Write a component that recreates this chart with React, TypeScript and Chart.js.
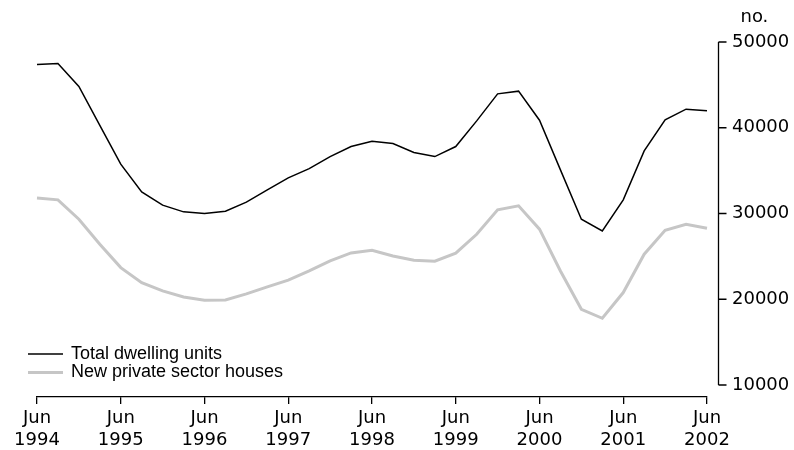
import React, { useEffect, useRef } from "react";
import { Chart, registerables } from "chart.js";

Chart.register(...registerables);

const quarters: string[] = [
  "Jun 1994", "Sep 1994", "Dec 1994", "Mar 1995",
  "Jun 1995", "Sep 1995", "Dec 1995", "Mar 1996",
  "Jun 1996", "Sep 1996", "Dec 1996", "Mar 1997",
  "Jun 1997", "Sep 1997", "Dec 1997", "Mar 1998",
  "Jun 1998", "Sep 1998", "Dec 1998", "Mar 1999",
  "Jun 1999", "Sep 1999", "Dec 1999", "Mar 2000",
  "Jun 2000", "Sep 2000", "Dec 2000", "Mar 2001",
  "Jun 2001", "Sep 2001", "Dec 2001", "Mar 2002",
  "Jun 2002",
];

const totalDwellingUnits: number[] = [
  47370, 47490, 44810, 40280, 35750, 32520, 30970, 30190,
  29990, 30270, 31320, 32750, 34150, 35240, 36640, 37810,
  38430, 38160, 37110, 36640, 37810, 40800, 43950, 44270,
  40880, 35090, 29330, 27970, 31590, 37300, 40920, 42170,
  41970,
];

const newPrivateSectorHouses: number[] = [
  31820, 31590, 29330, 26420, 23690, 21940, 20970, 20270,
  19880, 19920, 20620, 21440, 22220, 23300, 24470, 25400,
  25720, 25050, 24550, 24430, 25370, 27580, 30420, 30890,
  28170, 23300, 18830, 17780, 20780, 25250, 28050, 28750,
  28280,
];

const seriesLabels: string[] = ["Total dwelling units", "New private sector houses"];
const yTickValues: number[] = [10000, 20000, 30000, 40000, 50000];
const yUnit = "no.";

const TICK_FONT = "DejaVu Sans";
const LEGEND_FONT = "Liberation Sans";

const customAxes = {
  id: "customAxes",
  afterDraw(chart: any) {
    const ctx = chart.ctx;
    const y = chart.scales.y;
    const area = chart.chartArea;
    const axisX = area.right + 11.5;
    const top = y.getPixelForValue(yTickValues[yTickValues.length - 1]);
    const bottom = y.getPixelForValue(yTickValues[0]);
    ctx.save();
    ctx.strokeStyle = "#000";
    ctx.lineWidth = 1.3;
    ctx.beginPath();
    ctx.moveTo(axisX, top);
    ctx.lineTo(axisX, bottom);
    yTickValues.forEach((v) => {
      const py = y.getPixelForValue(v);
      ctx.moveTo(axisX, py);
      ctx.lineTo(axisX + 8, py);
    });
    ctx.stroke();
    // unit label
    ctx.fillStyle = "#000";
    ctx.font = `18px '${TICK_FONT}'`;
    ctx.textBaseline = "middle";
    ctx.textAlign = "left";
    ctx.fillText(yUnit, axisX + 22, 17);

    // legend
    const items = [
      { label: seriesLabels[0], color: "#000", width: 1.5, y: 354 },
      { label: seriesLabels[1], color: "#c6c6c6", width: 3, y: 372.5 },
    ];
    ctx.font = `18px '${LEGEND_FONT}'`;
    ctx.textBaseline = "alphabetic";
    items.forEach((it) => {
      ctx.strokeStyle = it.color;
      ctx.lineWidth = it.width;
      ctx.beginPath();
      ctx.moveTo(28, it.y);
      ctx.lineTo(63, it.y);
      ctx.stroke();
      ctx.fillStyle = "#000";
      ctx.fillText(it.label, 71, it.y + 4.5);
    });
    ctx.restore();
  },
};

export default function App() {
  const canvasRef = useRef<HTMLCanvasElement | null>(null);

  useEffect(() => {
    if (!canvasRef.current) return;
    const chart = new Chart(canvasRef.current, {
      type: "line",
      data: {
        labels: quarters,
        datasets: [
          {
            label: seriesLabels[1],
            data: newPrivateSectorHouses,
            borderColor: "#c6c6c6",
            borderWidth: 3,
            pointRadius: 0,
            tension: 0,
            fill: false,
          },
          {
            label: seriesLabels[0],
            data: totalDwellingUnits,
            borderColor: "#000",
            borderWidth: 1.5,
            pointRadius: 0,
            tension: 0,
            fill: false,
          },
        ],
      },
      options: {
        animation: false,
        responsive: false,
        maintainAspectRatio: false,
        layout: { padding: { top: 42, left: 37, right: 0, bottom: 0 } },
        plugins: {
          legend: { display: false },
          tooltip: { enabled: false },
        },
        scales: {
          x: {
            type: "category",
            offset: false,
            border: { display: true, color: "#000", width: 1.3 },
            grid: {
              display: true,
              drawOnChartArea: false,
              drawTicks: true,
              tickLength: 7,
              color: "#000",
              lineWidth: 1.3,
            },
            ticks: {
              autoSkip: false,
              maxRotation: 0,
              padding: 4,
              color: "#000",
              font: { family: TICK_FONT, size: 18, lineHeight: 1.18 },
              callback: (_v: any, i: number) => {
                if (i % 4 !== 0) return null;
                const parts = quarters[i].split(" ");
                return [parts[0], parts[1]];
              },
            },
            afterFit: (scale: any) => {
              scale.height = 53;
            },
          },
          y: {
            type: "linear",
            position: "right",
            min: 8600,
            max: 50000,
            border: { display: false },
            grid: { display: false, drawTicks: false },
            ticks: {
              padding: 25,
              color: "#000",
              font: { family: TICK_FONT, size: 18 },
              callback: (v: any) => String(v),
            },
            afterBuildTicks: (scale: any) => {
              scale.ticks = yTickValues.map((v) => ({ value: v }));
            },
            afterFit: (scale: any) => {
              scale.width = 87;
            },
          },
        },
      },
      plugins: [customAxes],
    });
    return () => chart.destroy();
  }, []);

  return (
    <div style={{ position: "fixed", left: 0, top: 0, width: 794, height: 450, background: "#fff" }}>
      <canvas ref={canvasRef} width={794} height={450} style={{ width: 794, height: 450 }} />
    </div>
  );
}
